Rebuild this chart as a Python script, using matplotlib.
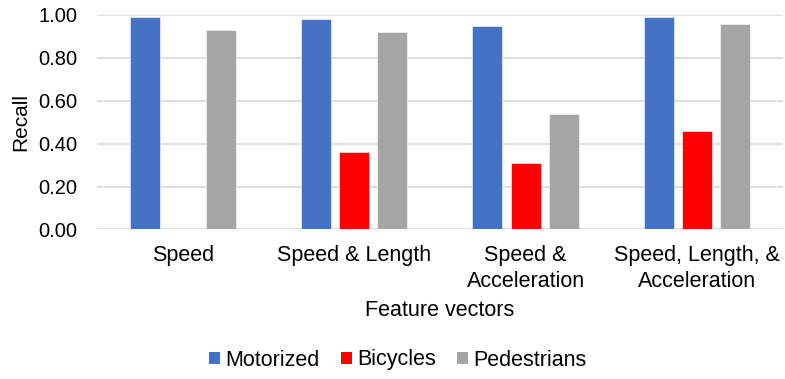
import numpy as np
import matplotlib.pyplot as plt
from matplotlib.patches import Patch

plt.rcParams['font.family'] = ['Liberation Sans', 'DejaVu Sans']

categories = ["Speed", "Speed & Length", "Speed &\nAcceleration", "Speed, Length, &\nAcceleration"]
series_names = ["Motorized", "Bicycles", "Pedestrians"]
motorized = [0.99, 0.98, 0.95, 0.99]
bicycles = [0.00, 0.36, 0.31, 0.46]
pedestrians = [0.93, 0.92, 0.54, 0.96]
colors = ["#4472C4", "#FF0000", "#A5A5A5"]

fig = plt.figure(figsize=(7.85, 3.79), dpi=100)
ax = fig.add_axes([0.1236, 0.3945, 0.8734, 0.566])

x = np.arange(len(categories))
width = 0.175
offset = 0.223
for i, (vals, c) in enumerate(zip([motorized, bicycles, pedestrians], colors)):
    ax.bar(x + (i - 1) * offset, vals, width, color=c, edgecolor="white",
           linewidth=0.4, zorder=3)

ax.set_xlim(-0.5, len(categories) - 0.5)
ax.set_ylim(0, 1.0)
ax.set_yticks(np.arange(0, 1.01, 0.2))
ax.set_yticklabels([f"{v:.2f}" for v in np.arange(0, 1.01, 0.2)])
ax.set_xticks(x)
ax.set_xticklabels(categories, linespacing=1.3)
ax.tick_params(axis="both", length=0, colors="#000000")
ax.tick_params(axis="y", pad=14, labelsize=14.5)
ax.tick_params(axis="x", pad=11, labelsize=15.5)
ax.grid(axis="y", color="#D9D9D9", linewidth=1.2, zorder=0)
for s in ax.spines.values():
    s.set_visible(False)

ax.set_ylabel("Recall", fontsize=15)
ax.yaxis.set_label_coords(-0.098, 0.5)
fig.text(0.5605, 1 - 311 / 379, "Feature vectors", fontsize=15.5, ha="center", va="center")

handles = [Patch(facecolor=c, edgecolor="none") for c in colors]
fig.legend(handles, series_names, loc="center", bbox_to_anchor=(0.507, 1 - 360 / 379),
           ncol=3, frameon=False, fontsize=15.5, handlelength=0.5, handleheight=0.5,
           handletextpad=0.25, columnspacing=1.0)

fig.savefig("out.png", dpi=100)
